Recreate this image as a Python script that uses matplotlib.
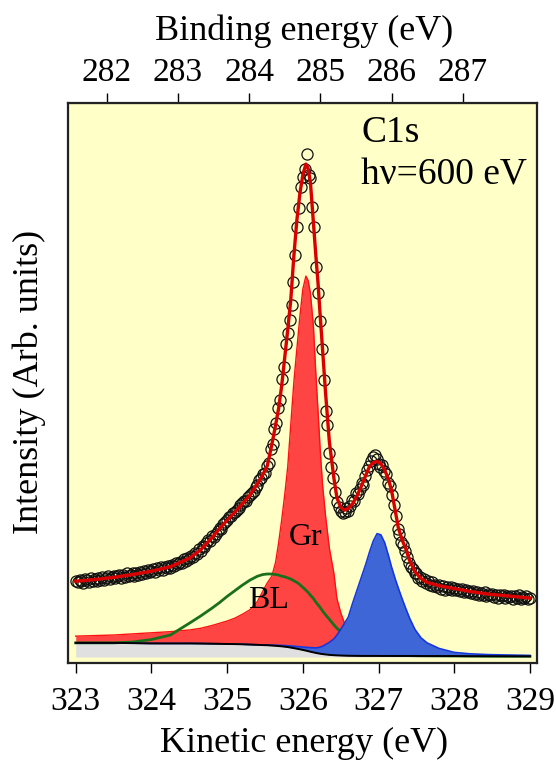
import numpy as np
import matplotlib
matplotlib.use("Agg")
import matplotlib.pyplot as plt

plt.rcParams['font.family'] = ['Liberation Serif', 'DejaVu Serif']

# measured C1s spectrum, kinetic energy grid (eV) and intensity (arb.)
ke_data = np.linspace(323.0, 329.0, 241)
intensity = [
    0.147, 0.144, 0.149, 0.146, 0.143, 0.150, 0.148, 0.145, 0.151, 0.147,
    0.150, 0.146, 0.152, 0.149, 0.154, 0.148, 0.151, 0.155, 0.150, 0.153,
    0.156, 0.151, 0.155, 0.158, 0.152, 0.157, 0.154, 0.160, 0.155, 0.158,
    0.160, 0.156, 0.161, 0.158, 0.163, 0.159, 0.165, 0.161, 0.166, 0.162,
    0.165, 0.168, 0.163, 0.169, 0.166, 0.171, 0.167, 0.172, 0.169, 0.173,
    0.170, 0.175, 0.173, 0.178, 0.176, 0.181, 0.179, 0.185, 0.182, 0.188,
    0.185, 0.192, 0.190, 0.197, 0.195, 0.203, 0.200, 0.209, 0.207, 0.215,
    0.219, 0.218, 0.226, 0.225, 0.231, 0.236, 0.241, 0.240, 0.248, 0.252,
    0.255, 0.260, 0.262, 0.268, 0.270, 0.274, 0.276, 0.282, 0.285, 0.289,
    0.290, 0.296, 0.300, 0.304, 0.308, 0.315, 0.318, 0.326, 0.330, 0.338,
    0.340, 0.352, 0.357, 0.383, 0.392, 0.418, 0.428, 0.455, 0.470, 0.508,
    0.528, 0.570, 0.590, 0.612, 0.640, 0.680, 0.728, 0.778, 0.812, 0.850,
    0.868, 0.882, 0.909, 0.872, 0.866, 0.815, 0.779, 0.708, 0.660, 0.610,
    0.560, 0.505, 0.450, 0.425, 0.375, 0.350, 0.330, 0.305, 0.288, 0.278,
    0.272, 0.268, 0.270, 0.276, 0.272, 0.280, 0.292, 0.290, 0.304, 0.302,
    0.310, 0.322, 0.318, 0.334, 0.345, 0.352, 0.360, 0.368, 0.372, 0.365,
    0.356, 0.350, 0.354, 0.343, 0.338, 0.322, 0.316, 0.300, 0.282, 0.262,
    0.240, 0.230, 0.216, 0.210, 0.200, 0.190, 0.178, 0.172, 0.168, 0.160,
    0.160, 0.152, 0.154, 0.147, 0.150, 0.143, 0.146, 0.139, 0.144, 0.138,
    0.140, 0.135, 0.139, 0.133, 0.137, 0.131, 0.136, 0.132, 0.135, 0.130,
    0.134, 0.130, 0.133, 0.128, 0.132, 0.127, 0.131, 0.126, 0.129, 0.125,
    0.128, 0.124, 0.127, 0.121, 0.125, 0.122, 0.126, 0.120, 0.124, 0.121,
    0.123, 0.118, 0.122, 0.117, 0.121, 0.119, 0.122, 0.116, 0.120, 0.118,
    0.120, 0.115, 0.119, 0.117, 0.121, 0.114, 0.118, 0.116, 0.119, 0.115,
    0.117,
]

# fit curves, all on one kinetic energy grid
ke_fit = [
    323.0, 323.25, 323.5, 323.75, 324.0, 324.25, 324.5, 324.65, 324.8, 324.9,
    325.0, 325.1, 325.2, 325.3, 325.4, 325.47, 325.53, 325.59, 325.64, 325.68,
    325.72, 325.76, 325.8, 325.84, 325.88, 325.92, 325.96, 326.0, 326.04, 326.07,
    326.1, 326.14, 326.17, 326.2, 326.23, 326.26, 326.3, 326.35, 326.41, 326.45,
    326.5, 326.55, 326.6, 326.66, 326.72, 326.77, 326.83, 326.88, 326.93, 326.98,
    327.03, 327.08, 327.13, 327.17, 327.22, 327.26, 327.31, 327.36, 327.41, 327.48,
    327.56, 327.64, 327.8, 328.0, 328.2, 328.45, 328.7, 329.0,
]
background = [
    0.036, 0.036, 0.036, 0.0355, 0.035, 0.035, 0.035, 0.0348, 0.0345, 0.0343,
    0.034, 0.0338, 0.0335, 0.033, 0.0325, 0.032, 0.0318, 0.0312, 0.0308, 0.0303,
    0.0298, 0.0292, 0.0285, 0.0276, 0.0266, 0.0256, 0.0245, 0.0234, 0.0222, 0.0212,
    0.0202, 0.019, 0.0181, 0.0173, 0.0166, 0.016, 0.0153, 0.0146, 0.014, 0.0137,
    0.0134, 0.0132, 0.013, 0.0129, 0.0128, 0.0127, 0.0127, 0.0127, 0.0127, 0.0127,
    0.0126, 0.0126, 0.0126, 0.0126, 0.0126, 0.0126, 0.0126, 0.0126, 0.0126, 0.0126,
    0.0125, 0.0125, 0.0125, 0.0125, 0.0123, 0.0122, 0.0121, 0.012,
]
gr = [
    0.048, 0.049, 0.050, 0.052, 0.054, 0.056, 0.059, 0.062, 0.067, 0.071,
    0.075, 0.080, 0.087, 0.095, 0.110, 0.128, 0.143, 0.155, 0.180, 0.215,
    0.255, 0.300, 0.350, 0.425, 0.500, 0.560, 0.618, 0.668, 0.691, 0.683,
    0.660, 0.600, 0.520, 0.450, 0.378, 0.318, 0.262, 0.205, 0.160, 0.115,
    0.090, 0.071, 0.056, 0.044, 0.035, 0.031, 0.027, 0.024, 0.022, 0.020,
    0.019, 0.018, 0.017, 0.0165, 0.016, 0.0155, 0.015, 0.0148, 0.0145, 0.0142,
    0.014, 0.0138, 0.0135, 0.0132, 0.0129, 0.0126, 0.0123, 0.012,
]
bl = [
    0.036, 0.036, 0.036, 0.0375, 0.042, 0.050, 0.071, 0.084, 0.098, 0.108,
    0.119, 0.129, 0.139, 0.148, 0.155, 0.158, 0.159, 0.159, 0.158, 0.157,
    0.155, 0.154, 0.152, 0.150, 0.147, 0.144, 0.140, 0.135, 0.130, 0.126,
    0.121, 0.115, 0.109, 0.104, 0.099, 0.093, 0.086, 0.078, 0.068, 0.062,
    0.056, 0.050, 0.044, 0.038, 0.033, 0.029, 0.025, 0.022, 0.020, 0.018,
    0.017, 0.016, 0.015, 0.0145, 0.014, 0.0138, 0.0135, 0.0133, 0.0132, 0.013,
    0.0129, 0.0128, 0.0127, 0.0126, 0.0124, 0.0122, 0.0121, 0.012,
]
sic = [
    0.036, 0.036, 0.036, 0.0355, 0.035, 0.035, 0.035, 0.0348, 0.0345, 0.0343,
    0.034, 0.0338, 0.0335, 0.033, 0.0325, 0.0322, 0.0322, 0.032, 0.0318, 0.0316,
    0.0314, 0.0311, 0.0308, 0.0304, 0.030, 0.0295, 0.029, 0.0285, 0.028, 0.0278,
    0.0275, 0.0272, 0.027, 0.0275, 0.0285, 0.030, 0.033, 0.037, 0.043, 0.050,
    0.060, 0.071, 0.082, 0.108, 0.132, 0.152, 0.176, 0.198, 0.218, 0.231,
    0.229, 0.215, 0.192, 0.172, 0.150, 0.134, 0.115, 0.097, 0.080, 0.060,
    0.045, 0.036, 0.026, 0.019, 0.0165, 0.015, 0.0143, 0.0135,
]
envelope = [
    0.146, 0.149, 0.153, 0.158, 0.164, 0.172, 0.187, 0.202, 0.224, 0.240,
    0.255, 0.269, 0.284, 0.300, 0.320, 0.336, 0.352, 0.390, 0.425, 0.455,
    0.495, 0.545, 0.595, 0.648, 0.725, 0.790, 0.838, 0.872, 0.891, 0.883,
    0.858, 0.785, 0.730, 0.679, 0.618, 0.560, 0.482, 0.395, 0.330, 0.295,
    0.278, 0.273, 0.276, 0.285, 0.300, 0.315, 0.335, 0.351, 0.358, 0.360,
    0.356, 0.345, 0.328, 0.309, 0.272, 0.242, 0.220, 0.204, 0.183, 0.163,
    0.151, 0.144, 0.138, 0.133, 0.128, 0.123, 0.120, 0.116,
]
floor_level = 0.0107

ke_ticks = [323, 324, 325, 326, 327, 328, 329]
be_ticks = [282, 283, 284, 285, 286, 287]

# binding energy scale shown on top (as printed on the original)
def ke_to_be(k):
    return 282 + (np.asarray(k) - 323.41) * 1.0633

def be_to_ke(b):
    return 323.41 + (np.asarray(b) - 282) / 1.0633


fig = plt.figure(figsize=(5.56, 7.6), dpi=100)
ax = fig.add_axes([0.1223, 0.1276, 0.8435, 0.7368])
ax.set_facecolor('#ffffc8')

ax.fill_between(ke_fit, floor_level, background, color='#e0e0e0', lw=0, zorder=1)
ax.fill_between(ke_fit, background, gr, color='#ff4444', lw=0, zorder=2)
ax.plot(ke_fit, gr, color='#ff1010', lw=1.0, zorder=2.1)
ax.plot(ke_fit, bl, color='#1a701a', lw=2.0, zorder=3)
ax.fill_between(ke_fit, background, sic, color='#3f66d6', lw=0, zorder=4)
ax.plot(ke_fit, sic, color='#1438e0', lw=1.2, zorder=4.1)
ax.plot(ke_fit, background, color='black', lw=1.4, zorder=5)

ax.plot(ke_data, intensity, 'o', mfc='none', mec='#111111', ms=8, mew=0.9, zorder=6)
ax.plot(ke_fit, envelope, color='#d80000', lw=2.4, zorder=7)

ax.set_xlim(322.898, 329.092)
ax.set_ylim(0, 1)
ax.set_yticks([])
ax.set_xticks(ke_ticks)
ax.tick_params(axis='x', direction='out', length=7, width=1, pad=10, labelsize=24)
for sp in ax.spines.values():
    sp.set_linewidth(1.6)
    sp.set_color('#222222')

top = ax.secondary_xaxis('top', functions=(ke_to_be, be_to_ke))
top.set_xticks(be_ticks)
top.tick_params(direction='out', length=7, width=1, pad=4, labelsize=24)

ax.text(0.625, 0.930, 'C1s', transform=ax.transAxes, fontsize=27)
ax.text(0.625, 0.854, 'h\u03bd=600 eV', transform=ax.transAxes, fontsize=27)
ax.text(326.03, 0.211, 'Gr', ha='center', fontsize=23)
ax.text(325.55, 0.098, 'BL', ha='center', fontsize=23)
ax.text(326.99, 0.055, 'SiC', ha='center', fontsize=23)

fig.text(0.547, 0.0105, 'Kinetic energy (eV)', ha='center', va='baseline', fontsize=26)
fig.text(0.547, 0.947, 'Binding energy (eV)', ha='center', va='baseline', fontsize=26)
fig.text(0.052, 0.497, 'Intensity (Arb. units)', ha='center', va='center',
         rotation=90, fontsize=26)

fig.savefig('out.png', dpi=100)
